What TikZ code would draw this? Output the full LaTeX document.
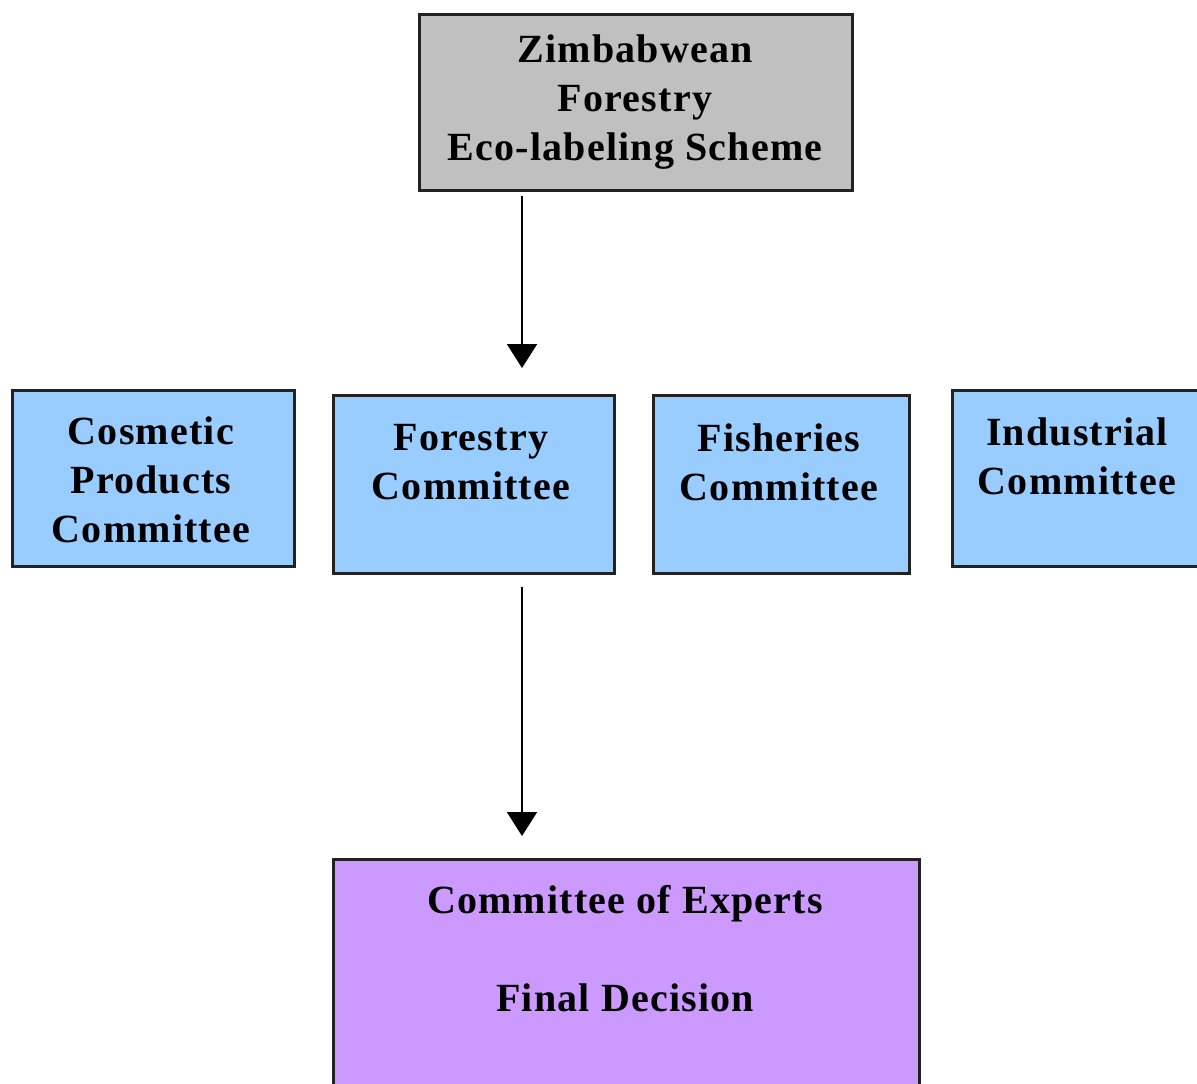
\documentclass[tikz,border=0pt]{standalone}
\usepackage{fontspec}
\setmainfont{Liberation Serif}[LetterSpace=3]
\usetikzlibrary{arrows.meta}
\definecolor{graybox}{HTML}{C0C0C0}
\definecolor{bluebox}{HTML}{99CCFF}
\definecolor{purplebox}{HTML}{CC99FF}
\definecolor{edgec}{HTML}{222222}
\tikzset{
  box/.style={draw=edgec, line width=2.5pt, rectangle, anchor=north west, inner sep=0pt},
  lbl/.style={align=center, inner sep=0pt, font=\bfseries\fontsize{40}{49}\selectfont},
  arr/.style={line width=2pt, -{Triangle[width=30pt,length=24pt]}}
}
\begin{document}
\begin{tikzpicture}[x=1pt,y=-1pt]
\useasboundingbox (0,0) rectangle (1197,1084);
\clip (0,0) rectangle (1197,1084);
\fill[white] (0,0) rectangle (1197,1084);
% boxes
\node[box, fill=graybox, minimum width=433pt, minimum height=176pt] (top) at (418,13) {};
\node[box, fill=bluebox, minimum width=282pt, minimum height=176pt] (cosm) at (11,389) {};
\node[box, fill=bluebox, minimum width=281pt, minimum height=178pt] (forc) at (332,394) {};
\node[box, fill=bluebox, minimum width=256pt, minimum height=178pt] (fish) at (652,394) {};
\node[box, fill=bluebox, minimum width=270pt, minimum height=176pt] (ind) at (951,389) {};
\node[box, fill=purplebox, minimum width=586pt, minimum height=240pt] (exp) at (332,858) {};
% labels
\node[lbl] (toptxt) at (635,102) {Zimbabwean\\Forestry\\Eco-labeling Scheme};
\node[lbl] (cosmtxt) at (151,480) {Cosmetic\\Products\\Committee};
\node[lbl] (forctxt) at (471,462) {Forestry\\Committee};
\node[lbl] (fishtxt) at (779,462) {Fisheries\\Committee};
\node[lbl] (indtxt) at (1077,456) {Industrial\\Committee};
\node[lbl] (exptxt) at (625,949) {Committee of Experts\\[49pt]Final Decision};
% connectors
\coordinate (ax) at (522,0);
\draw[arr] ([yshift=-4pt]top.south -| ax) -- ([yshift=26pt]forc.north -| ax);
\draw[arr] ([yshift=-12pt]forc.south -| ax) -- ([yshift=22pt]exp.north -| ax);
\end{tikzpicture}
\end{document}
